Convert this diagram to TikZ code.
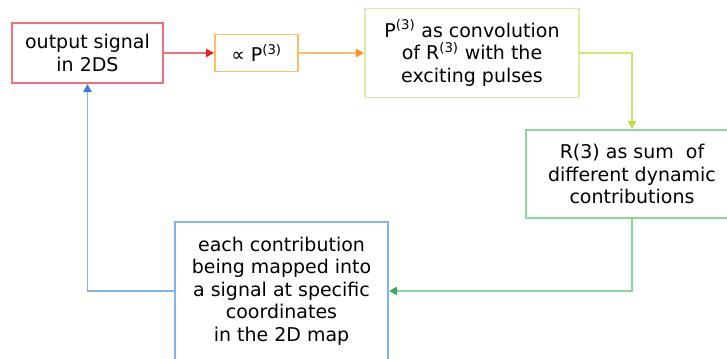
\documentclass[tikz,border=0pt]{standalone}
\usepackage{fontspec}
\setmainfont{DejaVu Sans}
\usetikzlibrary{positioning,arrows,arrows.meta}

\definecolor{redbox}{RGB}{243,112,122}
\definecolor{redtip}{RGB}{232,32,42}
\definecolor{orangebox}{RGB}{251,190,100}
\definecolor{orangetip}{RGB}{247,148,40}
\definecolor{yellowbox}{RGB}{222,234,170}
\definecolor{yellowline}{RGB}{210,228,110}
\definecolor{yellowtip}{RGB}{196,218,70}
\definecolor{greenbox}{RGB}{140,214,160}
\definecolor{greentip}{RGB}{56,172,84}
\definecolor{bluebox}{RGB}{132,180,232}
\definecolor{bluetip}{RGB}{62,122,208}

\tikzset{
  box/.style={draw,rectangle,align=center,inner sep=0pt,line width=1.6pt,
    font=\fontsize{16.2}{19.3}\selectfont},
  link/.style={line width=1.6pt,-{Triangle[length=7pt,width=7pt,color=#1]}}
}

\begin{document}
\begin{tikzpicture}[x=0.03cm,y=-0.03cm]

\useasboundingbox (0,0) rectangle (727,358);

\node[box,draw=redbox,minimum width=151*0.03cm,minimum height=60*0.03cm] (out) at (87.5,53) {output signal\\in 2DS};
\node[box,draw=orangebox,minimum width=83*0.03cm,minimum height=37*0.03cm] (prop) at (256.5,53) {∝ P\textsuperscript{(3)}};
\node[box,draw=yellowbox,minimum width=214*0.03cm,minimum height=89*0.03cm] (conv) at (472,53) {P\textsuperscript{(3)} as convolution\\of R\textsuperscript{(3)} with the\\exciting pulses};
\node[box,draw=greenbox,minimum width=212*0.03cm,minimum height=88*0.03cm] (sum) at (632,174) {R(3) as sum\ \ of\\different dynamic\\contributions};
\node[box,draw=bluebox,minimum width=213*0.03cm,minimum height=138*0.03cm] (mapped) at (281.5,291) {each contribution\\being mapped into\\a signal at specific\\coordinates\\in the 2D map};

\draw[link=redtip,redbox] (out.east) -- (prop.west);
\draw[link=orangetip,orangebox] (prop.east) -- (conv.west);
\draw[link=yellowtip,yellowline] (conv.east) -| (sum.north);
\draw[link=greentip,greenbox] (sum.south) |- (mapped.east);
\draw[link=bluetip,bluebox] (mapped.west) -| (out.south);

\end{tikzpicture}
\end{document}
